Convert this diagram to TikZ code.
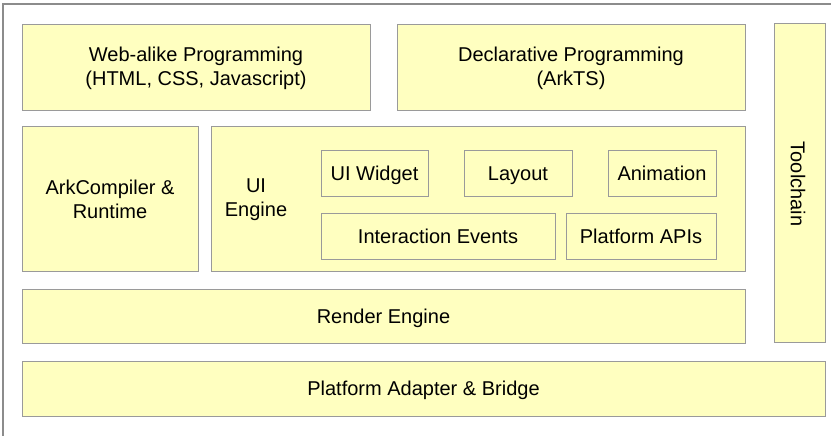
\documentclass[tikz,border=0pt]{standalone}
\usepackage{fontspec}
\setmainfont{Liberation Sans}
\definecolor{boxfill}{HTML}{FFFFC0}
\definecolor{boxline}{HTML}{9A9A9A}
\definecolor{frameline}{HTML}{8C8C8C}
\begin{document}
\begin{tikzpicture}[x=1pt,y=-1pt,
  blk/.style={draw=boxline,fill=boxfill,line width=1pt,inner sep=0pt,align=center,font=\fontsize{20}{24}\selectfont},
  one/.style={text height=16.5pt,text depth=2.5pt},
  txt/.style={inner sep=0pt,align=center,font=\fontsize{20}{24}\selectfont}]
\useasboundingbox (0,0) rectangle (831,436);
\draw[frameline,line width=1.2pt] (3,436) -- (3,4) -- (831,4);
% boxes given by corners
\newcommand{\blkbox}[7]{\node[blk,#7,minimum width=#3-#1,minimum height=#4-#2] (#5) at ({(#1+#3)/2},{(#2+#4)/2}) {#6};}
\blkbox{22}{24}{370}{110}{web}{Web-alike Programming\\(HTML, CSS, Javascript)}{yshift=-1pt}
\blkbox{397}{24}{745}{110}{decl}{Declarative Programming\\(ArkTS)}{yshift=-1pt}
\node[blk,minimum width=51,minimum height=318] (tool) at (799.5,183) {};
\node[txt,rotate=-90] (toollbl) at (798,184) {Toolchain};
\blkbox{22}{127}{198}{271}{ark}{ArkCompiler \&\\Runtime}{}
\blkbox{211}{127}{745}{271}{ui}{}{}
\node[txt] (uilbl) at (256,200) {UI\\Engine};
\blkbox{321}{150}{428}{196}{widget}{UI Widget}{one}
\blkbox{464}{150}{572}{196}{layout}{Layout}{one}
\blkbox{608}{150}{716}{196}{anim}{Animation}{one}
\blkbox{321}{213}{555}{259}{inter}{Interaction Events}{one}
\blkbox{566}{213}{716}{259}{papi}{Platform APIs}{one}
\blkbox{22}{289}{745}{343}{render}{Render Engine}{one}
\blkbox{22}{361}{825}{416}{adapt}{Platform Adapter \& Bridge}{one}
\end{tikzpicture}
\end{document}
